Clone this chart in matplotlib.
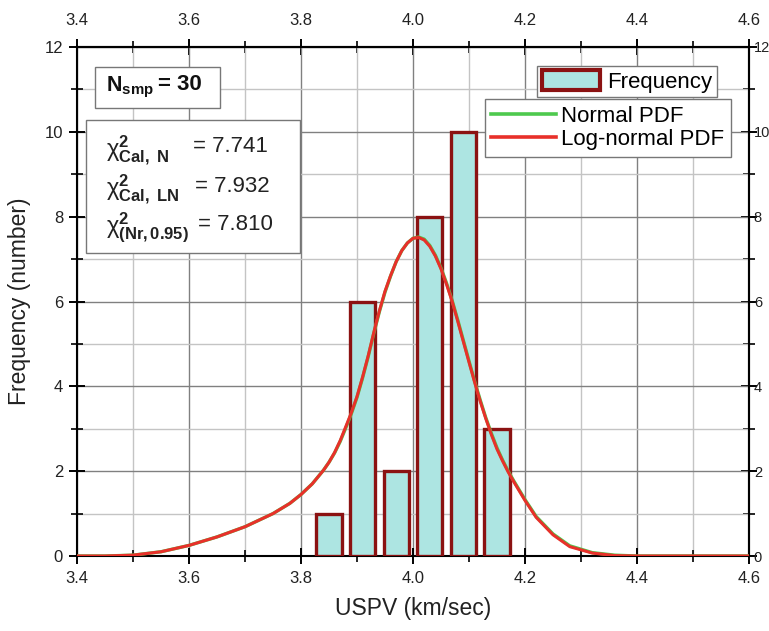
import matplotlib
matplotlib.use("Agg")
import matplotlib.pyplot as plt
from matplotlib.patches import Patch, Rectangle
from matplotlib.lines import Line2D
from matplotlib.ticker import MultipleLocator

plt.rcParams["font.family"] = ["Liberation Sans", "DejaVu Sans"]
plt.rcParams["mathtext.fontset"] = "custom"
plt.rcParams["mathtext.rm"] = "Liberation Sans"
plt.rcParams["mathtext.it"] = "Liberation Sans:italic"
plt.rcParams["mathtext.bf"] = "Liberation Sans:bold"

# Histogram of ultrasonic pulse velocity
bin_centers = [3.85, 3.91, 3.97, 4.03, 4.09, 4.15]
counts = [1, 6, 2, 8, 10, 3]
bar_width = 0.045

# Fitted density curves (scaled to counts)
pdf_x = [3.40, 3.45, 3.50, 3.55, 3.60, 3.65, 3.70, 3.75, 3.78, 3.80, 3.82,
         3.84, 3.85, 3.86, 3.87, 3.88, 3.89, 3.90, 3.91, 3.92, 3.93, 3.94,
         3.95, 3.96, 3.97, 3.98, 3.99, 4.00, 4.01, 4.02, 4.03, 4.04, 4.05,
         4.06, 4.07, 4.08, 4.09, 4.10, 4.11, 4.12, 4.13, 4.14, 4.15, 4.16,
         4.17, 4.18, 4.20, 4.22, 4.25, 4.28, 4.32, 4.36, 4.40, 4.50, 4.60]
normal_pdf = [0.00, 0.00, 0.02, 0.10, 0.25, 0.45, 0.69, 1.00, 1.24, 1.45, 1.70,
              2.02, 2.21, 2.43, 2.70, 3.02, 3.36, 3.74, 4.20, 4.70, 5.25, 5.76,
              6.22, 6.60, 6.94, 7.20, 7.38, 7.49, 7.52, 7.47, 7.32, 7.09, 6.79,
              6.43, 6.02, 5.56, 5.08, 4.60, 4.12, 3.68, 3.26, 2.89, 2.55, 2.26,
              2.00, 1.77, 1.33, 0.93, 0.52, 0.24, 0.08, 0.02, 0.00, 0.00, 0.00]
lognormal_pdf = [0.00, 0.00, 0.02, 0.10, 0.25, 0.45, 0.69, 1.00, 1.24, 1.45, 1.70,
                 2.02, 2.21, 2.44, 2.72, 3.05, 3.38, 3.76, 4.22, 4.72, 5.27, 5.78,
                 6.24, 6.61, 6.94, 7.20, 7.38, 7.49, 7.51, 7.45, 7.30, 7.07, 6.77,
                 6.40, 6.00, 5.53, 5.05, 4.57, 4.10, 3.65, 3.24, 2.86, 2.52, 2.24,
                 1.98, 1.75, 1.31, 0.91, 0.50, 0.22, 0.07, 0.01, 0.00, 0.00, 0.00]

x_ticks = [3.4, 3.6, 3.8, 4.0, 4.2, 4.4, 4.6]
y_ticks = [0, 2, 4, 6, 8, 10, 12]

W, H = 769, 631
L, R, T, B = 77, 749, 47, 556

fig = plt.figure(figsize=(W / 100, H / 100), dpi=100)
ax = fig.add_axes([L / W, 1 - B / H, (R - L) / W, (B - T) / H])


def ax_xy(px, py):
    """Pixel position -> axes fraction."""
    return (px - L) / (R - L), (B - py) / (B - T)


ax.set_xlim(3.4, 4.6)
ax.set_ylim(0, 12)

major_kw = dict(direction="inout", length=12, width=1.4, colors="black",
                labelcolor="#222222")
minor_kw = dict(direction="inout", length=8, width=1.2)


def style_axis(axis_obj, ticks, minor_step, fmt):
    axis_obj.set_ticks(ticks)
    axis_obj.set_ticklabels([fmt.format(v) for v in ticks])
    axis_obj.set_minor_locator(MultipleLocator(minor_step))


style_axis(ax.xaxis, x_ticks, 0.1, "{:.1f}")
style_axis(ax.yaxis, y_ticks, 1, "{:d}")
ax.tick_params(which="major", labelsize=12, **major_kw)
ax.tick_params(which="minor", **minor_kw)
ax.tick_params(axis="x", which="major", pad=5)
ax.tick_params(axis="y", which="major", pad=4)

# Mirrored top and right axes with their own label spacing
top = ax.secondary_xaxis("top")
style_axis(top.xaxis, x_ticks, 0.1, "{:.1f}")
top.tick_params(which="major", labelsize=12, pad=8, **major_kw)
top.tick_params(which="minor", **minor_kw)

right = ax.secondary_yaxis("right")
style_axis(right.yaxis, y_ticks, 1, "{:d}")
right.tick_params(which="major", labelsize=10.5, pad=-2.5, **major_kw)
right.tick_params(which="minor", **minor_kw)

for a in (ax, top, right):
    for s in a.spines.values():
        s.set_linewidth(1.5)
        s.set_color("black")

ax.grid(True, which="major", color="#808080", linewidth=1.0)
ax.grid(True, which="minor", color="#c4c4c4", linewidth=1.0)
ax.set_axisbelow(True)

ax.bar(bin_centers, counts, width=bar_width, color="#ade5e2",
       edgecolor="#8b1212", linewidth=2.4, zorder=3)

ax.plot(pdf_x, normal_pdf, color="#4ec94e", linewidth=2.4, zorder=4)
ax.plot(pdf_x, lognormal_pdf, color="#e8302a", linewidth=2.2, zorder=5)

ax.set_xlabel("USPV (km/sec)", fontsize=16.5, color="#222222")
ax.set_ylabel("Frequency (number)", fontsize=16.5, color="#222222")
ax.xaxis.set_label_coords(0.5, ax_xy(0, 597)[1])
ax.yaxis.set_label_coords(ax_xy(31, 0)[0], 0.5)

# Sample size box
x0, y0 = ax_xy(95, 108)
x1, y1 = ax_xy(220, 67)
ax.add_patch(Rectangle((x0, y0), x1 - x0, y1 - y0, transform=ax.transAxes,
                       facecolor="white", edgecolor="#777777", linewidth=1.0,
                       zorder=6))
ax.text(*ax_xy(106, 87), r"$\mathbf{N}_{\mathbf{smp}}$", transform=ax.transAxes,
        fontsize=15.5, va="center", ha="left", zorder=7, color="#111111")
ax.text(*ax_xy(158, 85), "= 30", transform=ax.transAxes, fontsize=16,
        fontweight="bold", va="center", ha="left", zorder=7, color="#111111")

# Chi-square statistics box
x0, y0 = ax_xy(86, 253)
x1, y1 = ax_xy(300, 120)
ax.add_patch(Rectangle((x0, y0), x1 - x0, y1 - y0, transform=ax.transAxes,
                       facecolor="white", edgecolor="#777777", linewidth=1.0,
                       zorder=6))
chi_labels = [r"$\mathrm{χ}^{\mathbf{2}}_{\mathbf{Cal,\ N}}$",
              r"$\mathrm{χ}^{\mathbf{2}}_{\mathbf{Cal,\ LN}}$",
              r"$\mathrm{χ}^{\mathbf{2}}_{\mathbf{(Nr,0.95)}}$"]
chi_values = ["= 7.741", "= 7.932", "= 7.810"]
chi_rows_px = [150, 189, 228]
chi_value_x_px = [193, 195, 198]
for lab, val, ypx, vx in zip(chi_labels, chi_values, chi_rows_px, chi_value_x_px):
    ax.text(*ax_xy(106, ypx), lab, transform=ax.transAxes,
            fontsize=17, va="center", ha="left", zorder=7, color="#222222")
    ax.text(*ax_xy(vx, ypx - 3), val, transform=ax.transAxes,
            fontsize=16, va="center", ha="left", zorder=7, color="#222222")

# Legends
leg1 = ax.legend(handles=[Patch(facecolor="#ade5e2", edgecolor="#8b1212",
                                linewidth=3.0, label="Frequency")],
                 loc="upper right", bbox_to_anchor=ax_xy(717, 66),
                 fontsize=16, frameon=True, fancybox=False,
                 edgecolor="#777777", framealpha=1, handlelength=2.6,
                 handleheight=1.0, borderpad=0.2, handletextpad=0.35,
                 borderaxespad=0)
leg1.get_frame().set_linewidth(1.0)
leg1.set_zorder(8)
ax.add_artist(leg1)

leg2 = ax.legend(handles=[Line2D([], [], color="#4ec94e", lw=2.6, label="Normal PDF"),
                          Line2D([], [], color="#e8302a", lw=2.6, label="Log-normal PDF")],
                 loc="upper right", bbox_to_anchor=ax_xy(731, 99),
                 fontsize=16, frameon=True, fancybox=False,
                 edgecolor="#777777", framealpha=1, handlelength=2.9,
                 borderpad=0.3, handletextpad=0.25, labelspacing=0.1,
                 borderaxespad=0)
leg2.get_frame().set_linewidth(1.0)
leg2.set_zorder(8)

fig.savefig("out.png", dpi=100)
